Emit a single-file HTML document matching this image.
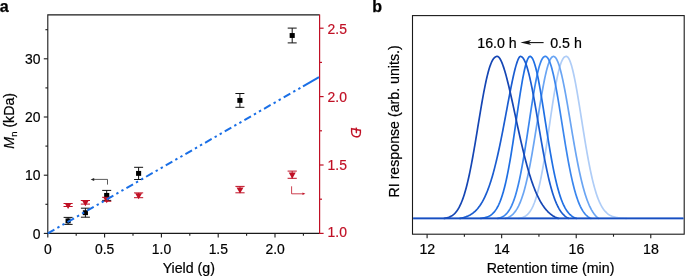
<!DOCTYPE html>
<html><head><meta charset="utf-8"><title>Figure</title>
<style>html,body{margin:0;padding:0;background:#fff}body{width:685px;height:276px;overflow:hidden}svg{display:block;will-change:transform}</style>
</head><body>
<svg width="685" height="276" viewBox="0 0 685 276" font-family="'Liberation Sans', Arial, Helvetica, sans-serif" font-size="14.2px">
<rect width="685" height="276" fill="#fff"/>
<text x="-0.3" y="12" font-size="16px" font-weight="bold" fill="#000" stroke="#000" stroke-width="0.25">a</text>
<text x="372.2" y="12" font-size="16px" font-weight="bold" fill="#000" stroke="#000" stroke-width="0.25">b</text>
<g stroke="#1a1a1a" stroke-width="1.1" fill="none" stroke-linecap="butt">
<path d="M47.8 233.9V14.9H319.6"/>
<path d="M47.3 233.4H319.6"/>
<path d="M47.80 233.4v4"/>
<path d="M76.20 233.4v2.4"/>
<path d="M104.60 233.4v4"/>
<path d="M133.00 233.4v2.4"/>
<path d="M161.40 233.4v4"/>
<path d="M189.80 233.4v2.4"/>
<path d="M218.20 233.4v4"/>
<path d="M246.60 233.4v2.4"/>
<path d="M275.00 233.4v4"/>
<path d="M303.40 233.4v2.4"/>
<path d="M47.8 233.40h-4"/>
<path d="M47.8 204.30h-2.4"/>
<path d="M47.8 175.20h-4"/>
<path d="M47.8 146.10h-2.4"/>
<path d="M47.8 117.00h-4"/>
<path d="M47.8 87.90h-2.4"/>
<path d="M47.8 58.80h-4"/>
<path d="M47.8 29.70h-2.4"/>
</g>
<g stroke="#c01025" stroke-width="1.2" fill="none">
<path d="M319.6 234.0V14.4"/>
<path d="M319.6 233.40h4"/>
<path d="M319.6 199.20h2.4"/>
<path d="M319.6 165.00h4"/>
<path d="M319.6 130.80h2.4"/>
<path d="M319.6 96.60h4"/>
<path d="M319.6 62.40h2.4"/>
<path d="M319.6 28.20h4"/>
</g>
<g fill="#000" stroke="#000" stroke-width="0.2" text-anchor="middle">
<text x="47.90" y="254.3" font-size="13.9px">0</text>
<text x="104.70" y="254.3" font-size="13.9px">0.5</text>
<text x="161.50" y="254.3" font-size="13.9px">1.0</text>
<text x="218.30" y="254.3" font-size="13.9px">1.5</text>
<text x="275.10" y="254.3" font-size="13.9px">2.0</text>
</g>
<g fill="#000" stroke="#000" stroke-width="0.2" text-anchor="end">
<text x="40.5" y="238.6" font-size="13.9px">0</text>
<text x="40.5" y="179.9" font-size="13.9px">10</text>
<text x="40.5" y="121.6" font-size="13.9px">20</text>
<text x="40.5" y="63.6" font-size="13.9px">30</text>
</g>
<g fill="#c01025" stroke="#c01025" stroke-width="0.2" text-anchor="start">
<text x="327.6" y="237.3" font-size="13.9px">1.0</text>
<text x="327.6" y="170.1" font-size="13.9px">1.5</text>
<text x="327.6" y="102.1" font-size="13.9px">2.0</text>
<text x="327.6" y="33.6" font-size="13.9px">2.5</text>
</g>
<text x="188.8" y="273.2" text-anchor="middle" fill="#000" stroke="#000" stroke-width="0.2">Yield (g)</text>
<text transform="translate(13.9 120.8) rotate(-90)" text-anchor="middle" fill="#000" stroke="#000" stroke-width="0.2"><tspan font-style="italic">M</tspan><tspan font-size="9.5px" dy="2.6">n</tspan><tspan dy="-2.6"> (kDa)</tspan></text>
<text transform="translate(350.6 132.6) rotate(90)" text-anchor="middle" fill="#c01025" stroke="#c01025" stroke-width="0.2" font-style="italic">Đ</text>
<g stroke="#111" stroke-width="1" fill="#000">
<path d="M68.1 217.40V224.40M63.60 217.40h9M63.60 224.40h9" fill="none"/>
<rect x="65.55" y="218.45" width="5.1" height="4.9" stroke="none"/>
<path d="M85.4 208.20V217.20M80.90 208.20h9M80.90 217.20h9" fill="none"/>
<rect x="82.85" y="210.25" width="5.1" height="4.9" stroke="none"/>
<path d="M106.7 190.40V200.40M102.20 190.40h9M102.20 200.40h9" fill="none"/>
<rect x="104.15" y="192.95" width="5.1" height="4.9" stroke="none"/>
<path d="M138.6 167.30V179.50M134.10 167.30h9M134.10 179.50h9" fill="none"/>
<rect x="136.05" y="170.95" width="5.1" height="4.9" stroke="none"/>
<path d="M239.9 93.50V107.30M235.40 93.50h9M235.40 107.30h9" fill="none"/>
<rect x="237.35" y="97.95" width="5.1" height="4.9" stroke="none"/>
<path d="M292.2 28.10V42.90M287.70 28.10h9M287.70 42.90h9" fill="none"/>
<rect x="289.65" y="33.05" width="5.1" height="4.9" stroke="none"/>
</g>
<g stroke="#c01025" stroke-width="1" fill="#c01025">
<path d="M68.1 203.50V206.50M63.50 203.50h9.2M63.50 206.50h9.2" fill="none"/>
<path d="M64.60 202.90h7L68.1 209.00Z" stroke="none"/>
<path d="M85.4 200.50V204.10M80.80 200.50h9.2M80.80 204.10h9.2" fill="none"/>
<path d="M81.90 200.20h7L85.4 206.30Z" stroke="none"/>
<path d="M106.7 197.30V201.30M102.10 197.30h9.2M102.10 201.30h9.2" fill="none"/>
<path d="M103.20 197.20h7L106.7 203.30Z" stroke="none"/>
<path d="M138.6 192.90V197.70M134.00 192.90h9.2M134.00 197.70h9.2" fill="none"/>
<path d="M135.10 193.20h7L138.6 199.30Z" stroke="none"/>
<path d="M240.0 186.40V192.80M235.40 186.40h9.2M235.40 192.80h9.2" fill="none"/>
<path d="M236.50 187.50h7L240.0 193.60Z" stroke="none"/>
<path d="M292.2 171.10V178.30M287.60 171.10h9.2M287.60 178.30h9.2" fill="none"/>
<path d="M288.70 172.60h7L292.2 178.70Z" stroke="none"/>
</g>
<path d="M47.8 233.4L303.00 86.32" stroke="#1a6fe6" stroke-width="2" fill="none" stroke-dasharray="7.60 3.43 2.40 3.43 2.40 3.43"/>
<path d="M303.00 86.32L319.00 77.10" stroke="#1a6fe6" stroke-width="2" fill="none"/>
<path d="M107.5 184.6V179.4H93.5" stroke="#333" stroke-width="0.8" fill="none"/>
<path d="M90.6 179.4l3.6 -1.5v3Z" fill="#222"/>
<path d="M291.6 186.3V193.8H303" stroke="#c01025" stroke-width="0.8" fill="none"/>
<path d="M305.4 193.8l-2.9 -1.3v2.6Z" fill="#c01025"/>
<g stroke="#1a1a1a" stroke-width="1.1" fill="none">
<rect x="412.5" y="15.6" width="271.70000000000005" height="218.6"/>
<path d="M427.10 234.2v4"/>
<path d="M464.38 234.2v2.5"/>
<path d="M501.66 234.2v4"/>
<path d="M538.94 234.2v2.5"/>
<path d="M576.22 234.2v4"/>
<path d="M613.50 234.2v2.5"/>
<path d="M650.78 234.2v4"/>
</g>
<g fill="#000" stroke="#000" stroke-width="0.2" text-anchor="middle">
<text x="427.30" y="254.3">12</text>
<text x="501.86" y="254.3">14</text>
<text x="576.42" y="254.3">16</text>
<text x="650.98" y="254.3">18</text>
<text x="550.5" y="272.9">Retention time (min)</text>
<text transform="translate(398.8 121.4) rotate(-90)">RI response (arb. units.)</text>
<text x="497" y="47.6">16.0 h</text>
<text x="566" y="47.6">0.5 h</text>
</g>
<path d="M543.6 42.6H527" stroke="#111" stroke-width="1.1" fill="none"/>
<path d="M520.4 42.6L531.2 40.1L528.6 42.6L531.2 45.1Z" fill="#111"/>
<path d="M413.1 218.3H683.6" stroke="#9dbff3" stroke-width="2.6" fill="none" opacity="0.55"/>
<path d="M518.0 218.30L518.5 218.30L519.0 218.30L519.5 218.21L520.0 218.12L520.5 218.01L521.0 217.89L521.5 217.75L522.0 217.60L522.5 217.43L523.0 217.24L523.5 217.03L524.0 216.80L524.5 216.54L525.0 216.26L525.5 215.95L526.0 215.61L526.5 215.23L527.0 214.82L527.5 214.37L528.0 213.88L528.5 213.35L529.0 212.77L529.5 212.14L530.0 211.45L530.5 210.72L531.0 209.92L531.5 209.06L532.0 208.14L532.5 207.15L533.0 206.09L533.5 204.96L534.0 203.75L534.5 202.47L535.0 201.10L535.5 199.65L536.0 198.11L536.5 196.48L537.0 194.77L537.5 192.96L538.0 191.07L538.5 189.07L539.0 186.99L539.5 184.81L540.0 182.54L540.5 180.17L541.0 177.72L541.5 175.17L542.0 172.53L542.5 169.81L543.0 167.00L543.5 164.11L544.0 161.15L544.5 158.11L545.0 155.01L545.5 151.84L546.0 148.62L546.5 145.34L547.0 142.02L547.5 138.67L548.0 135.28L548.5 131.87L549.0 128.44L549.5 125.01L550.0 121.58L550.5 118.16L551.0 114.75L551.5 111.38L552.0 108.04L552.5 104.74L553.0 101.50L553.5 98.31L554.0 95.20L554.5 92.17L555.0 89.22L555.5 86.37L556.0 83.62L556.5 80.98L557.0 78.45L557.5 76.05L558.0 73.77L558.5 71.62L559.0 69.61L559.5 67.74L560.0 66.01L560.5 64.43L561.0 62.99L561.5 61.70L562.0 60.56L562.5 59.56L563.0 58.71L563.5 58.00L564.0 57.43L564.5 57.00L565.0 56.69L565.5 56.50L566.0 56.41L566.5 56.41L567.0 56.58L567.5 56.92L568.0 57.43L568.5 58.11L569.0 58.96L569.5 59.98L570.0 61.15L570.5 62.48L571.0 63.96L571.5 65.59L572.0 67.36L572.5 69.26L573.0 71.30L573.5 73.46L574.0 75.73L574.5 78.12L575.0 80.60L575.5 83.19L576.0 85.86L576.5 88.62L577.0 91.45L577.5 94.34L578.0 97.29L578.5 100.30L579.0 103.35L579.5 106.44L580.0 109.55L580.5 112.69L581.0 115.84L581.5 119.00L582.0 122.16L582.5 125.32L583.0 128.47L583.5 131.59L584.0 134.70L584.5 137.78L585.0 140.82L585.5 143.82L586.0 146.78L586.5 149.70L587.0 152.56L587.5 155.37L588.0 158.11L588.5 160.80L589.0 163.43L589.5 165.98L590.0 168.47L590.5 170.89L591.0 173.24L591.5 175.52L592.0 177.72L592.5 179.85L593.0 181.90L593.5 183.88L594.0 185.79L594.5 187.62L595.0 189.38L595.5 191.06L596.0 192.67L596.5 194.22L597.0 195.69L597.5 197.10L598.0 198.43L598.5 199.71L599.0 200.92L599.5 202.06L600.0 203.15L600.5 204.18L601.0 205.16L601.5 206.07L602.0 206.94L602.5 207.76L603.0 208.53L603.5 209.25L604.0 209.93L604.5 210.56L605.0 211.16L605.5 211.71L606.0 212.23L606.5 212.72L607.0 213.17L607.5 213.59L608.0 213.99L608.5 214.35L609.0 214.69L609.5 215.00L610.0 215.29L610.5 215.56L611.0 215.80L611.5 216.03L612.0 216.24L612.5 216.44L613.0 216.61L613.5 216.78L614.0 216.93L614.5 217.07L615.0 217.19L615.5 217.31L616.0 217.41L616.5 217.51L617.0 217.59L617.5 217.67L618.0 217.75L618.5 217.81L619.0 217.87L619.5 217.93L620.0 217.97L620.5 218.02L621.0 218.06L621.5 218.09L622.0 218.13L622.5 218.16L623.0 218.18L623.5 218.21L624.0 218.23L624.5 218.25L625.0 218.26L625.5 218.28L626.0 218.29L626.5 218.30L627.0 218.30" stroke="#afcdf7" stroke-width="1.7" fill="none" stroke-linejoin="round" stroke-linecap="butt"/>
<path d="M505.0 218.30L505.5 218.30L506.0 218.30L506.5 218.13L507.0 217.95L507.5 217.75L508.0 217.53L508.5 217.29L509.0 217.04L509.5 216.76L510.0 216.45L510.5 216.13L511.0 215.77L511.5 215.39L512.0 214.98L512.5 214.54L513.0 214.06L513.5 213.55L514.0 213.00L514.5 212.42L515.0 211.79L515.5 211.12L516.0 210.40L516.5 209.64L517.0 208.83L517.5 207.96L518.0 207.04L518.5 206.07L519.0 205.04L519.5 203.95L520.0 202.80L520.5 201.59L521.0 200.31L521.5 198.96L522.0 197.55L522.5 196.07L523.0 194.51L523.5 192.89L524.0 191.19L524.5 189.42L525.0 187.57L525.5 185.65L526.0 183.65L526.5 181.57L527.0 179.43L527.5 177.20L528.0 174.91L528.5 172.54L529.0 170.09L529.5 167.58L530.0 165.00L530.5 162.36L531.0 159.65L531.5 156.88L532.0 154.05L532.5 151.17L533.0 148.23L533.5 145.26L534.0 142.24L534.5 139.18L535.0 136.09L535.5 132.97L536.0 129.84L536.5 126.69L537.0 123.52L537.5 120.36L538.0 117.20L538.5 114.04L539.0 110.91L539.5 107.80L540.0 104.72L540.5 101.67L541.0 98.67L541.5 95.73L542.0 92.84L542.5 90.02L543.0 87.27L543.5 84.60L544.0 82.02L544.5 79.53L545.0 77.15L545.5 74.86L546.0 72.69L546.5 70.64L547.0 68.71L547.5 66.91L548.0 65.24L548.5 63.71L549.0 62.31L549.5 61.06L550.0 59.96L550.5 59.00L551.0 58.20L551.5 57.54L552.0 57.03L552.5 56.68L553.0 56.47L553.5 56.40L554.0 56.48L554.5 56.70L555.0 57.07L555.5 57.59L556.0 58.25L556.5 59.05L557.0 60.00L557.5 61.08L558.0 62.29L558.5 63.63L559.0 65.10L559.5 66.70L560.0 68.41L560.5 70.23L561.0 72.17L561.5 74.21L562.0 76.36L562.5 78.59L563.0 80.92L563.5 83.33L564.0 85.82L564.5 88.38L565.0 91.01L565.5 93.70L566.0 96.45L566.5 99.24L567.0 102.08L567.5 104.95L568.0 107.86L568.5 110.79L569.0 113.75L569.5 116.72L570.0 119.69L570.5 122.67L571.0 125.65L571.5 128.63L572.0 131.59L572.5 134.53L573.0 137.46L573.5 140.36L574.0 143.23L574.5 146.07L575.0 148.88L575.5 151.64L576.0 154.36L576.5 157.03L577.0 159.66L577.5 162.23L578.0 164.75L578.5 167.22L579.0 169.63L579.5 171.98L580.0 174.27L580.5 176.49L581.0 178.66L581.5 180.76L582.0 182.80L582.5 184.77L583.0 186.68L583.5 188.53L584.0 190.31L584.5 192.03L585.0 193.68L585.5 195.27L586.0 196.80L586.5 198.27L587.0 199.68L587.5 201.02L588.0 202.31L588.5 203.55L589.0 204.72L589.5 205.85L590.0 206.91L590.5 207.93L591.0 208.90L591.5 209.82L592.0 210.69L592.5 211.52L593.0 212.30L593.5 213.04L594.0 213.74L594.5 214.40L595.0 215.02L595.5 215.61L596.0 216.16L596.5 216.68L597.0 217.17L597.5 217.63L598.0 218.06L598.5 218.30L599.0 218.30" stroke="#6aa5f3" stroke-width="1.7" fill="none" stroke-linejoin="round" stroke-linecap="butt"/>
<path d="M497.3 218.30L497.8 218.30L498.3 218.30L498.8 218.17L499.3 218.03L499.8 217.88L500.3 217.71L500.8 217.52L501.3 217.32L501.8 217.09L502.3 216.84L502.8 216.57L503.3 216.27L503.8 215.95L504.3 215.60L504.8 215.21L505.3 214.80L505.8 214.34L506.3 213.86L506.8 213.33L507.3 212.76L507.8 212.14L508.3 211.48L508.8 210.77L509.3 210.00L509.8 209.18L510.3 208.31L510.8 207.37L511.3 206.38L511.8 205.32L512.3 204.19L512.8 202.99L513.3 201.72L513.8 200.38L514.3 198.96L514.8 197.47L515.3 195.90L515.8 194.24L516.3 192.50L516.8 190.68L517.3 188.78L517.8 186.79L518.3 184.72L518.8 182.56L519.3 180.32L519.8 177.99L520.3 175.58L520.8 173.09L521.3 170.52L521.8 167.87L522.3 165.14L522.8 162.34L523.3 159.48L523.8 156.54L524.3 153.55L524.8 150.49L525.3 147.38L525.8 144.23L526.3 141.03L526.8 137.80L527.3 134.53L527.8 131.25L528.3 127.94L528.8 124.63L529.3 121.31L529.8 118.00L530.3 114.70L530.8 111.42L531.3 108.17L531.8 104.96L532.3 101.79L532.8 98.67L533.3 95.62L533.8 92.63L534.3 89.72L534.8 86.89L535.3 84.15L535.8 81.51L536.3 78.98L536.8 76.56L537.3 74.26L537.8 72.08L538.3 70.03L538.8 68.11L539.3 66.33L539.8 64.70L540.3 63.20L540.8 61.86L541.3 60.66L541.8 59.62L542.3 58.72L542.8 57.98L543.3 57.38L543.8 56.93L544.3 56.63L544.8 56.45L545.3 56.40L545.8 56.46L546.3 56.66L546.8 57.00L547.3 57.49L547.8 58.12L548.3 58.89L548.8 59.81L549.3 60.88L549.8 62.09L550.3 63.44L550.8 64.93L551.3 66.55L551.8 68.30L552.3 70.18L552.8 72.18L553.3 74.29L553.8 76.52L554.3 78.86L554.8 81.29L555.3 83.82L555.8 86.44L556.3 89.14L556.8 91.92L557.3 94.76L557.8 97.67L558.3 100.63L558.8 103.63L559.3 106.68L559.8 109.77L560.3 112.88L560.8 116.01L561.3 119.15L561.8 122.30L562.3 125.45L562.8 128.60L563.3 131.73L563.8 134.85L564.3 137.94L564.8 141.01L565.3 144.04L565.8 147.04L566.3 149.99L566.8 152.90L567.3 155.75L567.8 158.56L568.3 161.30L568.8 163.98L569.3 166.60L569.8 169.16L570.3 171.64L570.8 174.06L571.3 176.41L571.8 178.68L572.3 180.88L572.8 183.01L573.3 185.07L573.8 187.04L574.3 188.95L574.8 190.78L575.3 192.54L575.8 194.22L576.3 195.83L576.8 197.37L577.3 198.84L577.8 200.24L578.3 201.58L578.8 202.85L579.3 204.05L579.8 205.20L580.3 206.28L580.8 207.30L581.3 208.27L581.8 209.18L582.3 210.04L582.8 210.85L583.3 211.61L583.8 212.33L584.3 213.00L584.8 213.62L585.3 214.21L585.8 214.76L586.3 215.27L586.8 215.74L587.3 216.19L587.8 216.60L588.3 216.98L588.8 217.34L589.3 217.66L589.8 217.97L590.3 218.25L590.8 218.30L591.3 218.30" stroke="#3a86ee" stroke-width="1.7" fill="none" stroke-linejoin="round" stroke-linecap="butt"/>
<path d="M480.3 218.30L480.8 218.30L481.3 218.30L481.8 218.24L482.3 218.17L482.8 218.09L483.3 218.01L483.8 217.91L484.3 217.81L484.8 217.70L485.3 217.57L485.8 217.43L486.3 217.28L486.8 217.11L487.3 216.93L487.8 216.73L488.3 216.52L488.8 216.28L489.3 216.02L489.8 215.74L490.3 215.43L490.8 215.10L491.3 214.74L491.8 214.35L492.3 213.92L492.8 213.46L493.3 212.97L493.8 212.44L494.3 211.87L494.8 211.25L495.3 210.59L495.8 209.88L496.3 209.12L496.8 208.31L497.3 207.45L497.8 206.52L498.3 205.54L498.8 204.50L499.3 203.38L499.8 202.21L500.3 200.96L500.8 199.64L501.3 198.25L501.8 196.77L502.3 195.23L502.8 193.60L503.3 191.89L503.8 190.09L504.3 188.22L504.8 186.25L505.3 184.20L505.8 182.07L506.3 179.84L506.8 177.53L507.3 175.14L507.8 172.65L508.3 170.08L508.8 167.43L509.3 164.70L509.8 161.89L510.3 159.00L510.8 156.03L511.3 153.00L511.8 149.90L512.3 146.74L512.8 143.52L513.3 140.25L513.8 136.93L514.3 133.58L514.8 130.19L515.3 126.77L515.8 123.34L516.3 119.89L516.8 116.45L517.3 113.00L517.8 109.58L518.3 106.17L518.8 102.80L519.3 99.47L519.8 96.20L520.3 92.99L520.8 89.85L521.3 86.79L521.8 83.82L522.3 80.96L522.8 78.20L523.3 75.57L523.8 73.07L524.3 70.71L524.8 68.51L525.3 66.46L525.8 64.57L526.3 62.87L526.8 61.34L527.3 60.01L527.8 58.87L528.3 57.94L528.8 57.22L529.3 56.72L529.8 56.45L530.3 56.42L530.8 56.60L531.3 56.97L531.8 57.52L532.3 58.26L532.8 59.17L533.3 60.25L533.8 61.50L534.3 62.91L534.8 64.47L535.3 66.18L535.8 68.04L536.3 70.04L536.8 72.17L537.3 74.42L537.8 76.79L538.3 79.27L538.8 81.85L539.3 84.53L539.8 87.30L540.3 90.14L540.8 93.06L541.3 96.04L541.8 99.08L542.3 102.17L542.8 105.29L543.3 108.45L543.8 111.64L544.3 114.84L544.8 118.05L545.3 121.27L545.8 124.48L546.3 127.69L546.8 130.88L547.3 134.04L547.8 137.18L548.3 140.29L548.8 143.36L549.3 146.39L549.8 149.37L550.3 152.30L550.8 155.17L551.3 157.99L551.8 160.74L552.3 163.43L552.8 166.05L553.3 168.61L553.8 171.09L554.3 173.50L554.8 175.84L555.3 178.11L555.8 180.29L556.3 182.41L556.8 184.44L557.3 186.41L557.8 188.29L558.3 190.10L558.8 191.84L559.3 193.51L559.8 195.10L560.3 196.62L560.8 198.07L561.3 199.45L561.8 200.77L562.3 202.02L562.8 203.21L563.3 204.34L563.8 205.40L564.3 206.41L564.8 207.37L565.3 208.27L565.8 209.12L566.3 209.92L566.8 210.67L567.3 211.37L567.8 212.03L568.3 212.65L568.8 213.24L569.3 213.78L569.8 214.29L570.3 214.76L570.8 215.20L571.3 215.61L571.8 215.99L572.3 216.34L572.8 216.67L573.3 216.98L573.8 217.26L574.3 217.52L574.8 217.76L575.3 217.98L575.8 218.19L576.3 218.30L576.8 218.30" stroke="#1f6fe3" stroke-width="1.7" fill="none" stroke-linejoin="round" stroke-linecap="butt"/>
<path d="M459.5 218.30L460.0 218.30L460.5 218.30L461.0 218.20L461.5 218.09L462.0 217.98L462.5 217.86L463.0 217.73L463.5 217.60L464.0 217.46L464.5 217.31L465.0 217.15L465.5 216.98L466.0 216.80L466.5 216.61L467.0 216.41L467.5 216.20L468.0 215.98L468.5 215.75L469.0 215.50L469.5 215.24L470.0 214.97L470.5 214.68L471.0 214.37L471.5 214.05L472.0 213.72L472.5 213.36L473.0 212.99L473.5 212.60L474.0 212.19L474.5 211.76L475.0 211.31L475.5 210.83L476.0 210.34L476.5 209.82L477.0 209.28L477.5 208.71L478.0 208.11L478.5 207.49L479.0 206.84L479.5 206.16L480.0 205.46L480.5 204.72L481.0 203.95L481.5 203.15L482.0 202.31L482.5 201.45L483.0 200.54L483.5 199.60L484.0 198.63L484.5 197.61L485.0 196.56L485.5 195.47L486.0 194.34L486.5 193.17L487.0 191.95L487.5 190.70L488.0 189.40L488.5 188.05L489.0 186.67L489.5 185.23L490.0 183.76L490.5 182.23L491.0 180.66L491.5 179.04L492.0 177.38L492.5 175.67L493.0 173.91L493.5 172.11L494.0 170.25L494.5 168.35L495.0 166.40L495.5 164.41L496.0 162.37L496.5 160.28L497.0 158.15L497.5 155.98L498.0 153.76L498.5 151.50L499.0 149.20L499.5 146.85L500.0 144.47L500.5 142.06L501.0 139.60L501.5 137.12L502.0 134.60L502.5 132.06L503.0 129.48L503.5 126.89L504.0 124.27L504.5 121.64L505.0 118.99L505.5 116.32L506.0 113.65L506.5 110.98L507.0 108.30L507.5 105.63L508.0 102.96L508.5 100.31L509.0 97.67L509.5 95.06L510.0 92.47L510.5 89.91L511.0 87.39L511.5 84.91L512.0 82.48L512.5 80.11L513.0 77.80L513.5 75.55L514.0 73.38L514.5 71.30L515.0 69.30L515.5 67.40L516.0 65.61L516.5 63.93L517.0 62.38L517.5 60.96L518.0 59.70L518.5 58.60L519.0 57.68L519.5 56.97L520.0 56.51L520.5 56.41L521.0 56.50L521.5 56.71L522.0 57.03L522.5 57.48L523.0 58.06L523.5 58.75L524.0 59.57L524.5 60.52L525.0 61.59L525.5 62.78L526.0 64.09L526.5 65.52L527.0 67.06L527.5 68.71L528.0 70.48L528.5 72.35L529.0 74.32L529.5 76.39L530.0 78.55L530.5 80.81L531.0 83.14L531.5 85.56L532.0 88.04L532.5 90.60L533.0 93.22L533.5 95.90L534.0 98.63L534.5 101.41L535.0 104.23L535.5 107.08L536.0 109.96L536.5 112.87L537.0 115.80L537.5 118.74L538.0 121.69L538.5 124.64L539.0 127.58L539.5 130.52L540.0 133.45L540.5 136.36L541.0 139.25L541.5 142.12L542.0 144.95L542.5 147.75L543.0 150.51L543.5 153.23L544.0 155.91L544.5 158.54L545.0 161.12L545.5 163.65L546.0 166.12L546.5 168.53L547.0 170.89L547.5 173.19L548.0 175.42L548.5 177.59L549.0 179.70L549.5 181.74L550.0 183.72L550.5 185.63L551.0 187.48L551.5 189.26L552.0 190.98L552.5 192.63L553.0 194.22L553.5 195.74L554.0 197.20L554.5 198.60L555.0 199.94L555.5 201.22L556.0 202.43L556.5 203.60L557.0 204.70L557.5 205.75L558.0 206.75L558.5 207.70L559.0 208.60L559.5 209.45L560.0 210.25L560.5 211.01L561.0 211.73L561.5 212.40L562.0 213.04L562.5 213.63L563.0 214.19L563.5 214.72L564.0 215.21L564.5 215.67L565.0 216.10L565.5 216.51L566.0 216.88L566.5 217.23L567.0 217.56L567.5 217.86L568.0 218.14L568.5 218.30L569.0 218.30" stroke="#1a5cd0" stroke-width="1.7" fill="none" stroke-linejoin="round" stroke-linecap="butt"/>
<path d="M443.8 218.30L444.3 218.30L444.8 218.30L445.3 218.21L445.8 218.11L446.3 218.00L446.8 217.88L447.3 217.75L447.8 217.60L448.3 217.44L448.8 217.27L449.3 217.07L449.8 216.86L450.3 216.62L450.8 216.37L451.3 216.09L451.8 215.79L452.3 215.46L452.8 215.10L453.3 214.71L453.8 214.29L454.3 213.84L454.8 213.35L455.3 212.82L455.8 212.25L456.3 211.64L456.8 210.98L457.3 210.28L457.8 209.53L458.3 208.73L458.8 207.88L459.3 206.97L459.8 206.00L460.3 204.97L460.8 203.88L461.3 202.73L461.8 201.52L462.3 200.24L462.8 198.88L463.3 197.46L463.8 195.97L464.3 194.41L464.8 192.77L465.3 191.06L465.8 189.27L466.3 187.41L466.8 185.48L467.3 183.47L467.8 181.39L468.3 179.23L468.8 177.00L469.3 174.70L469.8 172.32L470.3 169.88L470.8 167.38L471.3 164.81L471.8 162.18L472.3 159.49L472.8 156.74L473.3 153.95L473.8 151.11L474.3 148.22L474.8 145.30L475.3 142.34L475.8 139.35L476.3 136.34L476.8 133.31L477.3 130.27L477.8 127.22L478.3 124.16L478.8 121.11L479.3 118.08L479.8 115.05L480.3 112.05L480.8 109.08L481.3 106.14L481.8 103.25L482.3 100.40L482.8 97.60L483.3 94.86L483.8 92.18L484.3 89.58L484.8 87.04L485.3 84.59L485.8 82.22L486.3 79.94L486.8 77.76L487.3 75.67L487.8 73.68L488.3 71.79L488.8 70.01L489.3 68.34L489.8 66.78L490.3 65.33L490.8 63.99L491.3 62.77L491.8 61.66L492.3 60.66L492.8 59.78L493.3 59.00L493.8 58.34L494.3 57.78L494.8 57.33L495.3 56.97L495.8 56.71L496.3 56.53L496.8 56.43L497.3 56.40L497.8 56.49L498.3 56.77L498.8 57.20L499.3 57.78L499.8 58.48L500.3 59.30L500.8 60.23L501.3 61.27L501.8 62.41L502.3 63.64L502.8 64.96L503.3 66.37L503.8 67.86L504.3 69.42L504.8 71.06L505.3 72.77L505.8 74.54L506.3 76.37L506.8 78.26L507.3 80.21L507.8 82.20L508.3 84.23L508.8 86.31L509.3 88.43L509.8 90.58L510.3 92.76L510.8 94.98L511.3 97.21L511.8 99.47L512.3 101.75L512.8 104.04L513.3 106.35L513.8 108.66L514.3 110.98L514.8 113.31L515.3 115.64L515.8 117.97L516.3 120.29L516.8 122.61L517.3 124.92L517.8 127.22L518.3 129.51L518.8 131.78L519.3 134.04L519.8 136.28L520.3 138.50L520.8 140.69L521.3 142.87L521.8 145.02L522.3 147.15L522.8 149.24L523.3 151.31L523.8 153.36L524.3 155.37L524.8 157.35L525.3 159.29L525.8 161.21L526.3 163.09L526.8 164.94L527.3 166.75L527.8 168.52L528.3 170.27L528.8 171.97L529.3 173.64L529.8 175.27L530.3 176.87L530.8 178.43L531.3 179.95L531.8 181.44L532.3 182.89L532.8 184.30L533.3 185.67L533.8 187.01L534.3 188.32L534.8 189.58L535.3 190.82L535.8 192.02L536.3 193.18L536.8 194.31L537.3 195.40L537.8 196.46L538.3 197.49L538.8 198.49L539.3 199.45L539.8 200.38L540.3 201.29L540.8 202.16L541.3 203.00L541.8 203.82L542.3 204.60L542.8 205.36L543.3 206.09L543.8 206.79L544.3 207.47L544.8 208.13L545.3 208.76L545.8 209.36L546.3 209.94L546.8 210.50L547.3 211.04L547.8 211.56L548.3 212.05L548.8 212.53L549.3 212.98L549.8 213.42L550.3 213.84L550.8 214.24L551.3 214.62L551.8 214.99L552.3 215.34L552.8 215.68L553.3 216.00L553.8 216.30L554.3 216.60L554.8 216.88L555.3 217.14L555.8 217.40L556.3 217.64L556.8 217.87L557.3 218.09L557.8 218.30L558.3 218.30L558.8 218.30" stroke="#1546b4" stroke-width="1.7" fill="none" stroke-linejoin="round" stroke-linecap="butt"/>
<path d="M413.1 218.3H683.6" stroke="#184ec0" stroke-width="1.7" fill="none"/>
</svg>
</body></html>
